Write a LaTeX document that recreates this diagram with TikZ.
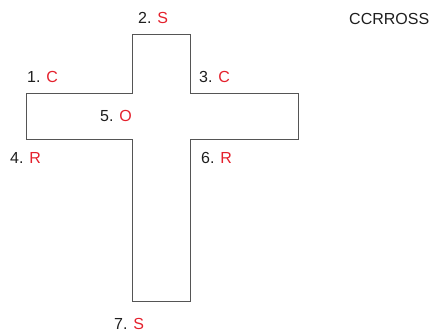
\documentclass[tikz,border=0pt]{standalone}
\usepackage{fontspec}
\setmainfont{Liberation Sans}
\definecolor{lred}{RGB}{228,32,44}
\definecolor{ltxt}{RGB}{30,30,30}
\definecolor{lline}{RGB}{85,85,85}
\begin{document}
\begin{tikzpicture}[x=1pt,y=-1pt,
  lbl/.style={anchor=base west,inner sep=0pt,font=\fontsize{16}{19}\selectfont,text=ltxt},
  crossline/.style={draw=lline,line width=1pt,line join=miter}]
\useasboundingbox (0,0) rectangle (434,333);
\draw[crossline] (132,34) -- (190,34) -- (190,93) -- (298,93) -- (298,139) -- (190,139)
  -- (190,301) -- (132,301) -- (132,139) -- (26,139) -- (26,93) -- (132,93) -- cycle;
\node[lbl] (l1) at (27,82) {1. \textcolor{lred}{C}};
\node[lbl] (l2) at (138,23) {2. \textcolor{lred}{S}};
\node[lbl] (l3) at (199,82) {3. \textcolor{lred}{C}};
\node[lbl] (l5) at (100,121) {5. \textcolor{lred}{O}};
\node[lbl] (l4) at (10,163) {4. \textcolor{lred}{R}};
\node[lbl] (l6) at (201,163) {6. \textcolor{lred}{R}};
\node[lbl] (l7) at (114,329) {7. \textcolor{lred}{S}};
\node[lbl] (word) at (349,24) {CCRROSS};
\end{tikzpicture}
\end{document}
